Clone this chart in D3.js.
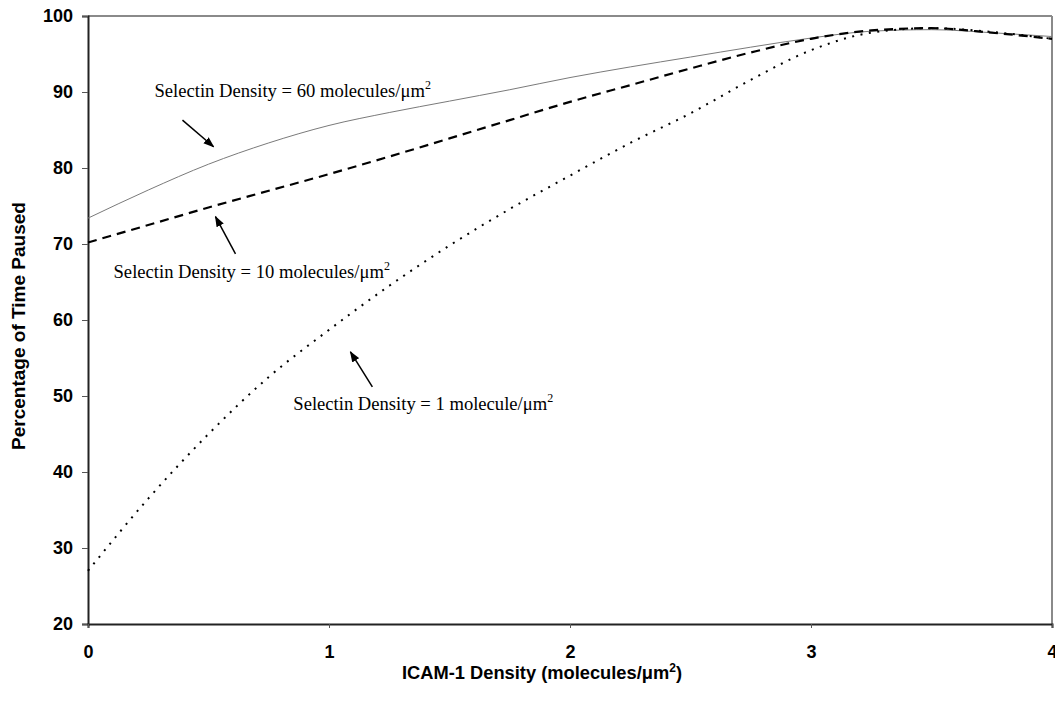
<!DOCTYPE html>
<html>
<head>
<meta charset="utf-8">
<script src="https://cdn.jsdelivr.net/npm/d3@7"></script>
<style>
  html, body { margin: 0; padding: 0; background: #fff; }
  svg { display: block; }
</style>
</head>
<body>
<svg id="chart" width="1055" height="702"></svg>
<script>
// ---- Data ----
const icamDensity = [0, 0.25, 0.5, 0.75, 1.0, 1.25, 1.5, 1.75, 2.0, 2.25, 2.5, 2.75, 3.0, 3.25, 3.5, 3.75, 4.0];
const selectin60 = [73.4, 77.1, 80.5, 83.3, 85.6, 87.3, 88.8, 90.3, 91.9, 93.3, 94.6, 95.9, 97.1, 98.0, 98.2, 97.8, 97.3];
const selectin10 = [70.2, 72.5, 74.8, 77.0, 79.2, 81.5, 83.9, 86.3, 88.7, 90.9, 93.1, 95.2, 97.0, 98.1, 98.4, 97.8, 97.0];
const selectin1  = [27.0, 36.5, 45.0, 52.5, 58.7, 64.5, 69.8, 74.6, 79.0, 83.3, 87.2, 91.6, 95.5, 97.8, 98.4, 97.9, 97.0];

const xTicks = [0, 1, 2, 3, 4];
const yTicks = [20, 30, 40, 50, 60, 70, 80, 90, 100];

const xTitle = "ICAM-1 Density (molecules/\u03bcm";
const yTitle = "Percentage of Time Paused";

// annotations: label text, label anchor (data units), arrow tail & tip (data units)
const annLabels = ["Selectin Density = 60 molecules/\u03bcm", "Selectin Density = 10 molecules/\u03bcm", "Selectin Density = 1 molecule/\u03bcm"];
const annTextX = [0.276, 0.106, 0.852];
const annTextY = [89.3, 65.5, 48.2];
const annTailX = [0.392, 0.612, 1.180];
const annTailY = [86.3, 68.7, 51.2];
const annTipX  = [0.521, 0.529, 1.089];
const annTipY  = [82.8, 73.6, 55.8];

// ---- Layout ----
const svg = d3.select("#chart");
const mLeft = 88, mRight = 1052, mTop = 16, mBottom = 624;

const x = d3.scaleLinear().domain([0, 4]).range([mLeft, mRight]);
const y = d3.scaleLinear().domain([20, 100]).range([mBottom, mTop]);

// arrow marker
svg.append("defs").append("marker")
  .attr("id", "arrow")
  .attr("viewBox", "0 0 10 10")
  .attr("refX", 9).attr("refY", 5)
  .attr("markerWidth", 11).attr("markerHeight", 9)
  .attr("markerUnits", "userSpaceOnUse")
  .attr("orient", "auto")
  .attr("preserveAspectRatio", "none")
  .append("path").attr("d", "M0,0.5 L10,5 L0,9.5 Z").attr("fill", "#000");

// frame: top & right (gray)
svg.append("line").attr("x1", mLeft).attr("x2", mRight).attr("y1", mTop).attr("y2", mTop)
  .attr("stroke", "#8a8a8a").attr("stroke-width", 2);
svg.append("line").attr("x1", mRight).attr("x2", mRight).attr("y1", mTop).attr("y2", mBottom)
  .attr("stroke", "#8a8a8a").attr("stroke-width", 2);

// axes
const yAxis = d3.axisLeft(y).tickValues(yTicks).tickSize(6).tickPadding(9).tickFormat(d3.format("d"));
const xAxis = d3.axisBottom(x).tickValues(xTicks).tickSize(4).tickPadding(17).tickFormat(d3.format("d"));

const gy = svg.append("g").attr("transform", `translate(${mLeft},0)`).call(yAxis);
const gx = svg.append("g").attr("transform", `translate(0,${mBottom})`).call(xAxis);

[gx, gy].forEach(g => {
  g.select(".domain").attr("stroke", "#222").attr("stroke-width", 2);
  g.selectAll(".tick line").attr("stroke", "#555").attr("stroke-width", 1);
  g.selectAll(".tick text")
    .attr("font-family", "Liberation Sans, Arial, sans-serif")
    .attr("font-weight", "bold")
    .attr("font-size", 18)
    .attr("fill", "#000");
});

// lines
const mkLine = vals => d3.line()
  .x((d, i) => x(icamDensity[i]))
  .y(d => y(d))
  .curve(d3.curveMonotoneX)(vals);

svg.append("path").attr("d", mkLine(selectin60))
  .attr("fill", "none").attr("stroke", "#7a7a7a").attr("stroke-width", 1);
svg.append("path").attr("d", mkLine(selectin10))
  .attr("fill", "none").attr("stroke", "#000").attr("stroke-width", 2.2)
  .attr("stroke-dasharray", "9,6");
svg.append("path").attr("d", mkLine(selectin1))
  .attr("fill", "none").attr("stroke", "#000").attr("stroke-width", 2)
  .attr("stroke-dasharray", "2,6.5");

// annotations
annLabels.forEach((lab, i) => {
  const t = svg.append("text")
    .attr("x", x(annTextX[i])).attr("y", y(annTextY[i]))
    .attr("font-family", "Liberation Serif, Times New Roman, serif")
    .attr("font-size", 18.6).attr("fill", "#000");
  t.append("tspan").text(lab);
  t.append("tspan").text("2").attr("font-size", 12).attr("dy", -8);

  svg.append("line")
    .attr("x1", x(annTailX[i])).attr("y1", y(annTailY[i]))
    .attr("x2", x(annTipX[i])).attr("y2", y(annTipY[i]))
    .attr("stroke", "#000").attr("stroke-width", 1.5)
    .attr("marker-end", "url(#arrow)");
});

// axis titles
const xt = svg.append("text")
  .attr("x", 542).attr("y", 679)
  .attr("text-anchor", "middle")
  .attr("font-family", "Liberation Sans, Arial, sans-serif")
  .attr("font-weight", "bold").attr("font-size", 18.3).attr("fill", "#000");
xt.append("tspan").text(xTitle);
xt.append("tspan").text("2").attr("font-size", 12).attr("dy", -7);
xt.append("tspan").text(")").attr("dy", 7);

svg.append("text")
  .attr("transform", `translate(25,${(mTop + mBottom) / 2 + 6}) rotate(-90)`)
  .attr("text-anchor", "middle")
  .attr("font-family", "Liberation Sans, Arial, sans-serif")
  .attr("font-weight", "bold").attr("font-size", 19).attr("fill", "#000")
  .text(yTitle);
</script>
</body>
</html>
